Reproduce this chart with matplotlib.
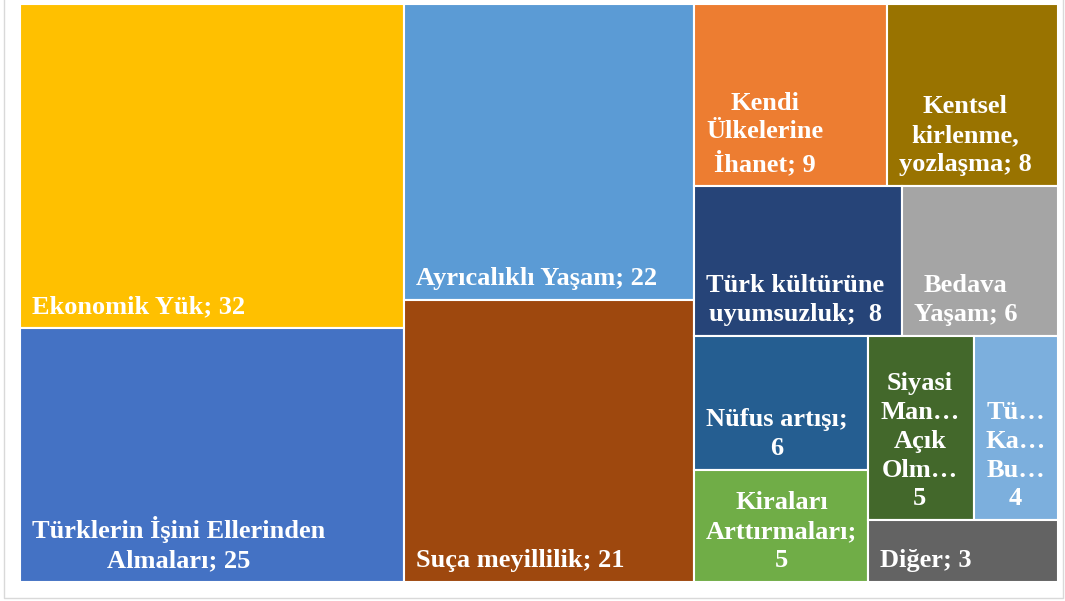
import matplotlib
matplotlib.use("Agg")
import matplotlib.pyplot as plt
from matplotlib.patches import Rectangle

# categories and counts
categories = [
    "Ekonomik Yük",
    "Türklerin İşini Ellerinden Almaları",
    "Ayrıcalıklı Yaşam",
    "Suça meyillilik",
    "Kendi Ülkelerine İhanet",
    "Kentsel kirlenme, yozlaşma",
    "Türk kültürüne uyumsuzluk",
    "Bedava Yaşam",
    "Nüfus artışı",
    "Kiraları Arttırmaları",
    "Siyasi Man… Açık Olm…",
    "Tü… Ka… Bu…",
    "Diğer",
]
values = [32, 25, 22, 21, 9, 8, 8, 6, 6, 5, 5, 4, 3]

# labels as they are wrapped in the picture
display_labels = [
    "Ekonomik Yük; 32",
    "Türklerin İşini Ellerinden\nAlmaları; 25",
    "Ayrıcalıklı Yaşam; 22",
    "Suça meyillilik; 21",
    "Kendi\nÜlkelerine\nİhanet; 9",
    "Kentsel\nkirlenme,\nyozlaşma; 8",
    "Türk kültürüne\nuyumsuzluk;  8",
    "Bedava\nYaşam; 6",
    "Nüfus artışı;\n6",
    "Kiraları\nArttırmaları;\n5",
    "Siyasi\nMan…\nAçık\nOlm…\n5",
    "Tü…\nKa…\nBu…\n4",
    "Diğer; 3",
]

colors = ["#FFC000", "#4472C4", "#5B9BD5", "#9E480E", "#ED7D31", "#997300",
          "#264478", "#A5A5A5", "#255E91", "#70AD47", "#43682B", "#7CAFDD",
          "#636363"]

# nesting of the tiles (indices into the lists above)
groups = [[0, 1], [2, 3], [[4, 5], [6, 7], [[8, 9], [[10, 11], 12]]]]


def total(node):
    if isinstance(node, int):
        return values[node]
    return sum(total(n) for n in node)


def layout(node, x, y, w, h, horizontal, out):
    if isinstance(node, int):
        out[node] = (x, y, w, h)
        return
    s = total(node)
    pos = x if horizontal else y
    for child in node:
        frac = total(child) / s
        if horizontal:
            layout(child, pos, y, w * frac, h, False, out)
            pos += w * frac
        else:
            layout(child, x, pos, w, h * frac, True, out)
            pos += h * frac


W, H = 1065, 601
fig = plt.figure(figsize=(W / 100, H / 100), dpi=100)
ax = fig.add_axes([0, 0, 1, 1])
ax.set_xlim(0, W)
ax.set_ylim(H, 0)
ax.axis("off")

# light frame of the chart area
ax.plot([4, 4, 1063, 1063], [0, 598, 598, 0], color="#D9D9D9", lw=1)

rects = {}
layout(groups, 20, 4, 1038, 578, True, rects)

for i, (x, y, w, h) in rects.items():
    ax.add_patch(Rectangle((x, y), w, h, facecolor=colors[i],
                           edgecolor="white", lw=1.5))
    ax.text(x + 12, y + h - 15, display_labels[i], color="white",
            fontsize=19, fontweight="bold", family="Liberation Serif",
            ha="left", va="baseline", multialignment="center",
            linespacing=1.33)

fig.savefig("out.png", dpi=100)
